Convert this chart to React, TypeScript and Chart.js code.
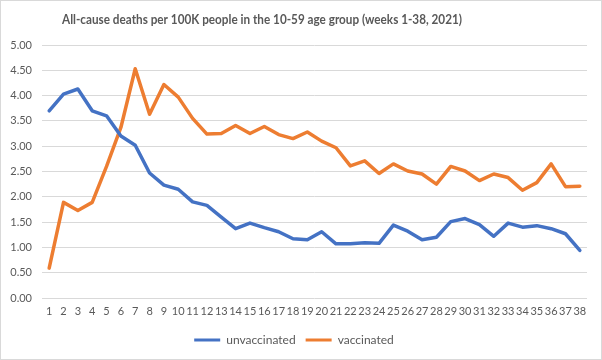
import React, { useEffect, useRef } from "react";
import { Chart, registerables } from "chart.js";

Chart.register(...registerables);

const weeks: string[] = Array.from({ length: 38 }, (_, i) => String(i + 1));

const unvaccinated: number[] = [
  3.70, 4.03, 4.13, 3.70, 3.60, 3.20, 3.02, 2.47, 2.23, 2.15,
  1.90, 1.83, 1.60, 1.37, 1.48, 1.39, 1.31, 1.17, 1.15, 1.31,
  1.07, 1.07, 1.09, 1.08, 1.44, 1.32, 1.15, 1.20, 1.51, 1.57,
  1.45, 1.22, 1.48, 1.40, 1.43, 1.37, 1.27, 0.94,
];

const vaccinated: number[] = [
  0.59, 1.89, 1.73, 1.89, 2.60, 3.37, 4.53, 3.63, 4.22, 3.97,
  3.55, 3.24, 3.25, 3.41, 3.25, 3.39, 3.23, 3.15, 3.28, 3.10,
  2.97, 2.61, 2.71, 2.46, 2.65, 2.51, 2.45, 2.25, 2.60, 2.51,
  2.32, 2.45, 2.38, 2.13, 2.28, 2.65, 2.20, 2.21,
];

const titleText = "All-cause deaths per 100K people in the 10-59 age group (weeks 1-38, 2021)";
const seriesNames = ["unvaccinated", "vaccinated"];
const yTicks = [0, 0.5, 1, 1.5, 2, 2.5, 3, 3.5, 4, 4.5, 5];

const FONT = "Lato, 'Open Sans', sans-serif";
const TEXT = "#595959";

const titlePlugin = {
  id: "customTitle",
  afterDraw(chart: any) {
    const ctx = chart.ctx;
    ctx.save();
    ctx.font = `bold 14px ${FONT}`;
    ctx.fillStyle = TEXT;
    ctx.textAlign = "center";
    ctx.textBaseline = "middle";
    ctx.fillText(titleText, 261, 18, 400);
    ctx.restore();
  },
};

export default function App() {
  const ref = useRef<HTMLCanvasElement>(null);
  useEffect(() => {
    if (!ref.current) return;
    const chart = new Chart(ref.current, {
      type: "line",
      data: {
        labels: weeks,
        datasets: [
          {
            label: seriesNames[0],
            data: unvaccinated,
            borderColor: "#4472C4",
            backgroundColor: "#4472C4",
            borderWidth: 3.5,
            pointRadius: 0,
            tension: 0,
            borderJoinStyle: "round",
            borderCapStyle: "round",
          },
          {
            label: seriesNames[1],
            data: vaccinated,
            borderColor: "#ED7D31",
            backgroundColor: "#ED7D31",
            borderWidth: 3.5,
            pointRadius: 0,
            tension: 0,
            borderJoinStyle: "round",
            borderCapStyle: "round",
          },
        ],
      },
      options: {
        animation: false,
        responsive: false,
        maintainAspectRatio: false,
        layout: { padding: { top: 44, left: 0, right: 14, bottom: 3 } },
        scales: {
          x: {
            offset: true,
            grid: { display: false, drawTicks: false },
            border: { display: false },
            ticks: {
              autoSkip: false,
              maxRotation: 0,
              minRotation: 0,
              padding: 7,
              color: TEXT,
              font: { family: FONT, size: 11 },
            },
            afterFit(scale: any) {
              scale.height = 26;
            },
          },
          y: {
            min: 0,
            max: 5,
            afterBuildTicks(scale: any) {
              scale.ticks = yTicks.map((v) => ({ value: v }));
            },
            grid: { color: "#d9d9d9", lineWidth: 1, drawTicks: false },
            border: { display: false },
            ticks: {
              padding: 10,
              color: TEXT,
              font: { family: FONT, size: 11 },
              callback: (v: any) => Number(v).toFixed(2),
            },
            afterFit(scale: any) {
              scale.width = 41;
            },
          },
        },
        plugins: {
          title: { display: false },
          tooltip: { enabled: false },
          legend: {
            position: "bottom",
            labels: {
              boxWidth: 26,
              boxHeight: 3,
              padding: 10,
              color: TEXT,
              font: { family: FONT, size: 12 },
              generateLabels(c: any) {
                const items = Chart.defaults.plugins.legend.labels.generateLabels(c);
                return items.map((it: any) => ({ ...it, lineWidth: 0 }));
              },
            },
          },
        },
      },
      plugins: [titlePlugin],
    } as any);
    return () => chart.destroy();
  }, []);
  return (
    <div
      style={{
        position: "absolute",
        left: 0,
        top: 0,
        width: 602,
        height: 360,
        border: "1px solid #d9d9d9",
        boxSizing: "border-box",
        background: "#fff",
      }}
    >
      <canvas ref={ref} width={600} height={358} style={{ display: "block" }} />
    </div>
  );
}
